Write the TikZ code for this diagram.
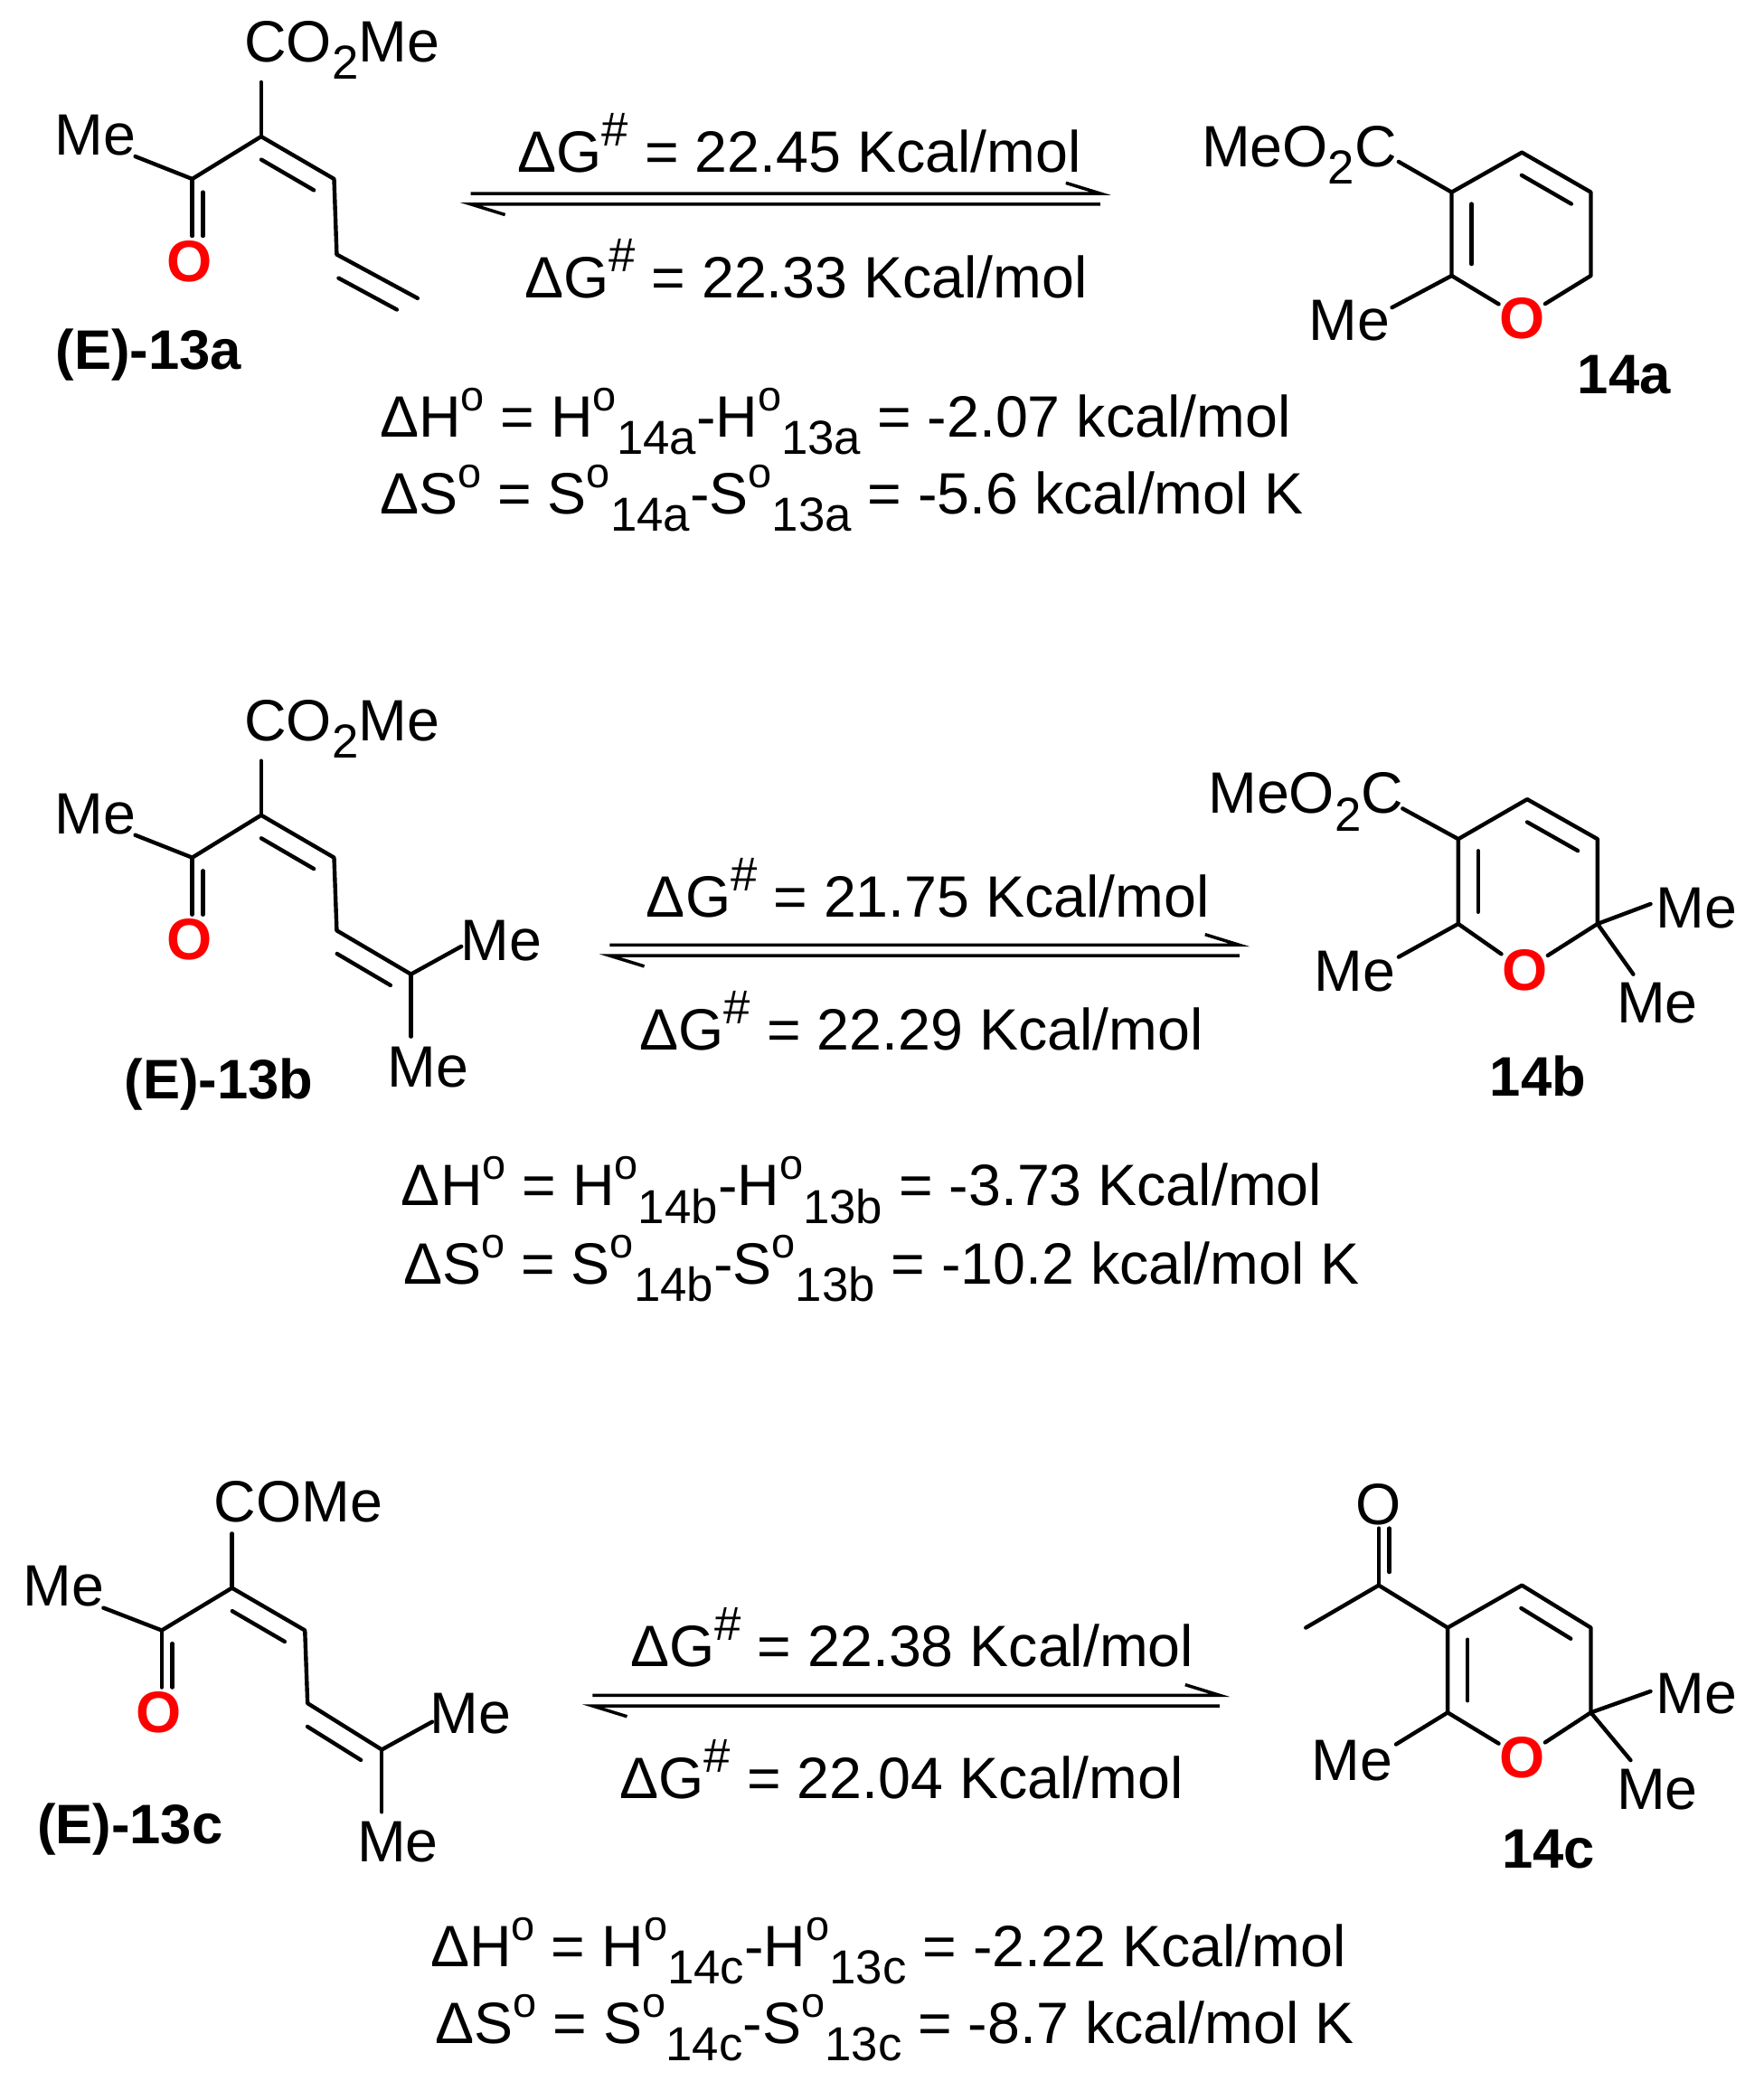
\documentclass[tikz,border=0pt]{standalone}
\usepackage{fontspec}
\setmainfont{Liberation Sans}
\usetikzlibrary{calc}
\tikzset{bd/.style={line width=1.5pt,line cap=round,line join=round},
 t/.style={font=\fontsize{22}{26}\selectfont,inner sep=0pt},
 ox/.style={t,text=red,font=\fontsize{22}{26}\selectfont\bfseries},
 lab/.style={t,font=\fontsize{21}{26}\selectfont\bfseries}}
\newcommand\sub[1]{\raisebox{-0.3em}{\fontsize{18}{20}\selectfont #1}}
\newcommand\sop{\raisebox{0.45em}{\fontsize{16}{18}\selectfont o}}
\newcommand\shash{\raisebox{0.45em}{\fontsize{18}{20}\selectfont\#}}
\newcommand\dbond[3]{\draw[bd] ($ ($(#1)!0.14!(#2)$)!7.5pt!#3:(#2) $) -- ($ ($(#1)!0.86!(#2)$)!7.5pt!-#3:(#1) $);}
\newcommand\eqarrow[3]{% x1 x2 y
 \coordinate (ta) at (#1,#3-4); \coordinate (tb) at (#2,#3-4);
 \coordinate (ba) at (#1,#3+4); \coordinate (bb) at (#2,#3+4);
 \draw[line width=1.2pt] (ta) -- (tb) -- ++(-26,-8);
 \draw[line width=1.2pt] (bb) -- (ba) -- ++(26,8);}
\begin{document}
\begin{tikzpicture}[x=0.5pt,y=-0.5pt]
\useasboundingbox (0,0) rectangle (1330,1570);
% ---------- 13a
\node[t] (me1) at (72,102) {Me};
\node[t] (co1) at (258,38) {CO\sub{2}Me};
\node[ox] (o1) at (143,197) {O};
\coordinate (a1) at (145,135); \coordinate (a2) at (197,103);
\coordinate (a3) at (252,135); \coordinate (a4) at (254,192); \coordinate (a5) at (315,225);
\draw[bd] (102,118) -- (a1) -- (a2) -- (a3) -- (a4) -- (a5);
\draw[bd] (a1) -- (145,178); \draw[bd] (153,145) -- (153,178);
\draw[bd] (a2) -- (197,62);
\dbond{a2}{a3}{-90} \dbond{a4}{a5}{-90}
\node[lab] (l1) at (112,268) {(E)-13a};
\eqarrow{355}{830}{150}
\node[t] (g1) at (603,108) {ΔG\shash{} = 22.45 Kcal/mol};
\node[t] (g2) at (608,203) {ΔG\shash{} = 22.33 Kcal/mol};
\node[t] (m1) at (980,117) {MeO\sub{2}C};
\coordinate (r3) at (1095,145); \coordinate (r4) at (1148,115); \coordinate (r5) at (1200,145);
\coordinate (r6) at (1200,208); \node[ox] (ro) at (1148,240) {O}; \coordinate (r2) at (1095,208);
\draw[bd] (1055,122) -- (r3) -- (r4) -- (r5) -- (r6) -- (ro) -- (r2) -- (r3);
\dbond{r4}{r5}{-90} \dbond{r2}{r3}{-90}
\node[t] (me2) at (1018,242) {Me};
\draw[bd] (r2) -- (1050,232);
\node[lab] (l2) at (1225,283) {14a};
\node[t] (h1) at (630,318) {ΔH\sop{} = H\sop\sub{14a}-H\sop\sub{13a} = -2.07 kcal/mol};
\node[t] (s1) at (635,376) {ΔS\sop{} = S\sop\sub{14a}-S\sop\sub{13a} = -5.6 kcal/mol K};
% ---------- 13b
\node[t] (me3) at (72,614) {Me};
\node[t] (co3) at (258,550) {CO\sub{2}Me};
\node[ox] (o3) at (143,709) {O};
\coordinate (b1) at (145,647); \coordinate (b2) at (197,615);
\coordinate (b3) at (252,647); \coordinate (b4) at (254,702); \coordinate (b5) at (310,735);
\draw[bd] (102,630) -- (b1) -- (b2) -- (b3) -- (b4) -- (b5);
\draw[bd] (b1) -- (145,690); \draw[bd] (153,657) -- (153,690);
\draw[bd] (b2) -- (197,574);
\dbond{b2}{b3}{-90} \dbond{b4}{b5}{-90}
\node[t] (me4) at (378,710) {Me}; \node[t] (me5) at (323,805) {Me};
\draw[bd] (b5) -- (348,714); \draw[bd] (b5) -- (310,782);
\node[lab] (l3) at (165,818) {(E)-13b};
\eqarrow{460}{935}{717}
\node[t] (g3) at (700,670) {ΔG\shash{} = 21.75 Kcal/mol};
\node[t] (g4) at (695,770) {ΔG\shash{} = 22.29 Kcal/mol};
\node[t] (m2) at (985,605) {MeO\sub{2}C};
\coordinate (q3) at (1100,633); \coordinate (q4) at (1152,603); \coordinate (q5) at (1205,633);
\coordinate (q6) at (1205,697); \node[ox] (qo) at (1150,732) {O}; \coordinate (q2) at (1100,697);
\draw[bd] (1058,610) -- (q3) -- (q4) -- (q5) -- (q6) -- (qo) -- (q2) -- (q3);
\dbond{q4}{q5}{-90} \dbond{q2}{q3}{-90}
\node[t] (me6) at (1022,733) {Me}; \draw[bd] (q2) -- (1055,722);
\node[t] (me7) at (1280,685) {Me}; \node[t] (me8) at (1250,757) {Me};
\draw[bd] (q6) -- (1245,682); \draw[bd] (q6) -- (1232,735);
\node[lab] (l4) at (1160,812) {14b};
\node[t] (h2) at (650,898) {ΔH\sop{} = H\sop\sub{14b}-H\sop\sub{13b} = -3.73 Kcal/mol};
\node[t] (s2) at (665,957) {ΔS\sop{} = S\sop\sub{14b}-S\sop\sub{13b} = -10.2 kcal/mol K};
% ---------- 13c
\node[t] (me9) at (48,1197) {Me};
\node[t] (co5) at (225,1133) {COMe};
\node[ox] (o5) at (120,1292) {O};
\coordinate (c1) at (122,1230); \coordinate (c2) at (175,1198);
\coordinate (c3) at (230,1230); \coordinate (c4) at (232,1285); \coordinate (c5) at (288,1320);
\draw[bd] (78,1213) -- (c1) -- (c2) -- (c3) -- (c4) -- (c5);
\draw[bd] (c1) -- (122,1273); \draw[bd] (130,1240) -- (130,1273);
\draw[bd] (c2) -- (175,1157);
\dbond{c2}{c3}{-90} \dbond{c4}{c5}{-90}
\node[t] (me10) at (355,1293) {Me}; \node[t] (me11) at (300,1390) {Me};
\draw[bd] (c5) -- (326,1299); \draw[bd] (c5) -- (288,1367);
\node[lab] (l5) at (98,1380) {(E)-13c};
\eqarrow{447}{920}{1283}
\node[t] (g5) at (688,1235) {ΔG\shash{} = 22.38 Kcal/mol};
\node[t] (g6) at (680,1335) {ΔG\shash{} = 22.04 Kcal/mol};
\coordinate (p3) at (1092,1228); \coordinate (p4) at (1148,1196); \coordinate (p5) at (1200,1228);
\coordinate (p6) at (1200,1292); \node[ox] (po) at (1148,1326) {O}; \coordinate (p2) at (1092,1292);
\draw[bd] (p3) -- (p4) -- (p5) -- (p6) -- (po) -- (p2) -- (p3);
\dbond{p4}{p5}{-90} \dbond{p2}{p3}{-90}
\node[t] (ao) at (1040,1135) {O};
\coordinate (ac) at (1040,1196);
\draw[bd] (p3) -- (ac) -- (985,1228); \draw[bd] (ac) -- (1040,1153); \draw[bd] (1048,1186) -- (1048,1153);
\node[t] (me12) at (1020,1328) {Me}; \draw[bd] (p2) -- (1053,1316);
\node[t] (me13) at (1280,1278) {Me}; \node[t] (me14) at (1250,1350) {Me};
\draw[bd] (p6) -- (1245,1276); \draw[bd] (p6) -- (1230,1328);
\node[lab] (l6) at (1168,1395) {14c};
\node[t] (h3) at (670,1472) {ΔH\sop{} = H\sop\sub{14c}-H\sop\sub{13c} = -2.22 Kcal/mol};
\node[t] (s3) at (675,1530) {ΔS\sop{} = S\sop\sub{14c}-S\sop\sub{13c} = -8.7 kcal/mol K};
\end{tikzpicture}
\end{document}
